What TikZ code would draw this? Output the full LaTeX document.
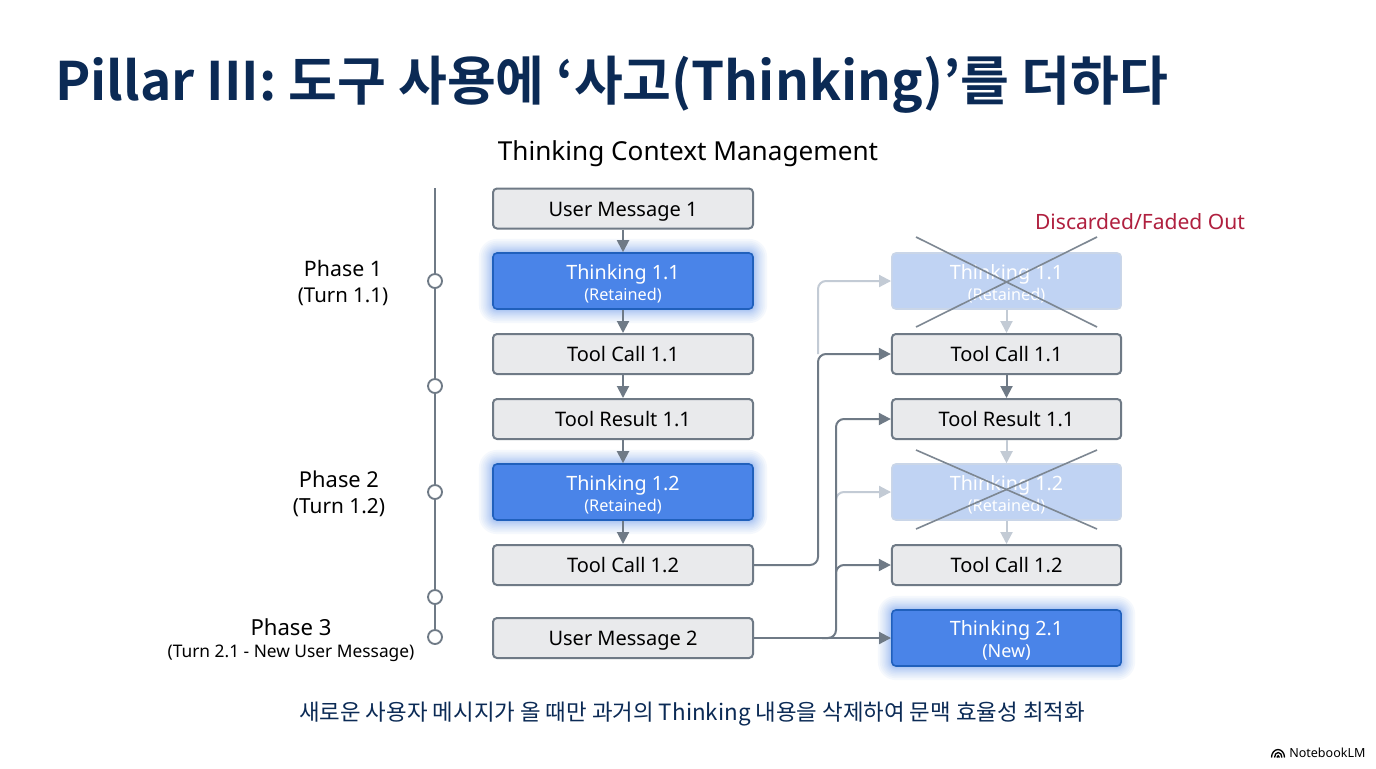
\documentclass[tikz,border=0pt]{standalone}
\usepackage{fontspec}
\setmainfont{Noto Sans}
\newfontfamily\krfont{Noto Sans CJK KR}
\newfontfamily\krbold{Noto Sans CJK KR Bold}
\usetikzlibrary{arrows.meta,calc}
\definecolor{navy}{HTML}{0B2A55}
\definecolor{linegray}{HTML}{6F7A86}
\definecolor{boxfill}{HTML}{E9EAEC}
\definecolor{blueA}{HTML}{4A84E8}
\definecolor{blueB}{HTML}{2060BC}
\definecolor{fadefill}{HTML}{C0D3F3}
\definecolor{fadeline}{HTML}{CAD6E8}
\definecolor{fadegray}{HTML}{C3CBD5}
\definecolor{redtxt}{HTML}{B0203F}
\newcommand{\smalltxt}[1]{{\fontsize{12.2pt}{15pt}\selectfont #1}}
\newcommand{\tline}[1]{\rule{0pt}{15pt}#1}
\tikzset{
  x=0.75pt,y=-0.75pt,
  bx/.style={rectangle,rounded corners=3pt,minimum height=30pt,inner sep=0pt,line width=1.5pt,draw=linegray,fill=boxfill,font=\fontsize{15pt}{18pt}\selectfont,text=black,text height=12pt,text depth=0.5pt},
  lw/.style={minimum width=195pt},
  rw/.style={minimum width=172pt},
  tk/.style={rectangle,rounded corners=3pt,minimum height=42pt,inner sep=0pt,line width=1.2pt,draw=blueB,fill=blueA,align=center,text=white,font=\fontsize{14.8pt}{17pt}\selectfont},
  fd/.style={tk,draw=fadeline,fill=fadefill},
  ar/.style={line width=1.5pt,draw=linegray,-{Triangle[width=9pt,length=9pt,fill=linegray]}},
  arf/.style={line width=1.5pt,draw=fadegray,-{Triangle[width=9pt,length=9pt,fill=fadegray]}},
  el/.style={line width=1.5pt,draw=linegray,rounded corners=6pt},
  elf/.style={line width=1.5pt,draw=fadegray,rounded corners=6pt},
  xl/.style={line width=1.2pt,draw=linegray!90!white},
  dot/.style={circle,draw=linegray,fill=white,line width=1.4pt,minimum size=10.5pt,inner sep=0pt},
  lab/.style={align=center,font=\fontsize{15.3pt}{19.5pt}\selectfont,text=black},
}
\newcommand{\glow}[4]{%
  \foreach \g in {1,...,14}{
    \pgfmathsetmacro{\ext}{\g*\g*0.072}
    \fill[blueA,opacity=0.05,rounded corners={3pt+\ext*0.75pt}] ($(#1-\ext,#2-\ext)$) rectangle ($(#3+\ext,#4+\ext)$);
  }}
\begin{document}
\begin{tikzpicture}
\useasboundingbox (0,0) rectangle (1376,768);
\fill[white] (0,0) rectangle (1376,768);

\node[anchor=base west,inner sep=0pt,text=navy,font=\krbold\fontsize{39.8pt}{44pt}\selectfont] (title) at (55,100) {Pillar III: 도구 사용에 ‘사고(Thinking)’를 더하다};
\node[font=\fontsize{19.6pt}{23pt}\selectfont,text=black] (sub) at (688,154) {Thinking Context Management};

% glows
\glow{493}{253}{753}{309}
\glow{493}{464}{753}{520}
\glow{892}{610}{1121}{666}

% timeline
\coordinate (tltop) at (435,188);
\node[dot] (d1) at (435,281) {};
\node[dot] (d2) at (435,386) {};
\node[dot] (d3) at (435,492) {};
\node[dot] (d4) at (435,597) {};
\node[dot] (d5) at (435,637) {};
\draw[line width=1.5pt,draw=linegray] (tltop) -- (d1) (d1) -- (d2) (d2) -- (d3) (d3) -- (d4) (d4) -- (d5);

\node[lab] (p1) at (343,283) {{\fontsize{16pt}{19.5pt}\selectfont Phase 1}\\(Turn 1.1)};
\node[lab] (p2) at (339,494) {{\fontsize{16.4pt}{19.5pt}\selectfont Phase 2}\\{\fontsize{15.6pt}{19.5pt}\selectfont (Turn 1.2)}};
\node[lab,font=\fontsize{16.6pt}{19.5pt}\selectfont] (p3a) at (291,627) {Phase 3};
\node[font=\fontsize{13pt}{15pt}\selectfont,text=black] (p3b) at (291,653) {(Turn 2.1 - New User Message)};

% left column
\node[bx,lw] (um1) at (623,208.5) {User Message 1};
\node[tk,lw] (t11) at (623,281) {\tline{Thinking 1.1}\\[-1pt]\smalltxt{(Retained)}};
\node[bx,lw] (tc11) at (623,354) {Tool Call 1.1};
\node[bx,lw] (tr11) at (623,419) {Tool Result 1.1};
\node[tk,lw] (t12) at (623,492) {\tline{Thinking 1.2}\\[-1pt]\smalltxt{(Retained)}};
\node[bx,lw] (tc12) at (623,565) {Tool Call 1.2};
\node[bx,lw] (um2) at (623,638) {User Message 2};

% right column
\node[fd,rw] (rt11) at (1006.5,281) {\tline{Thinking 1.1}\\[-1pt]\smalltxt{(Retained)}};
\node[bx,rw] (rtc11) at (1006.5,354) {Tool Call 1.1};
\node[bx,rw] (rtr11) at (1006.5,419) {Tool Result 1.1};
\node[fd,rw] (rt12) at (1006.5,492) {\tline{Thinking 1.2}\\[-1pt]\smalltxt{(Retained)}};
\node[bx,rw] (rtc12) at (1006.5,565) {Tool Call 1.2};
\node[tk,rw] (rt21) at (1006.5,638) {\tline{Thinking 2.1}\\[-1pt]{\fontsize{13.5pt}{15pt}\selectfont (New)}};

\node[text=redtxt,font=\fontsize{15.8pt}{19pt}\selectfont] (disc) at (1140,222) {Discarded/Faded Out};

% left arrows
\draw[ar] (um1) -- (t11);
\draw[ar] (t11) -- (tc11);
\draw[ar] (tc11) -- (tr11);
\draw[ar] (tr11) -- (t12);
\draw[ar] (t12) -- (tc12);

% right arrows
\draw[arf] (rt11) -- (rtc11);
\draw[ar] (rtc11) -- (rtr11);
\draw[arf] (rtr11) -- (rt12);
\draw[arf] (rt12) -- (rtc12);

% bus coordinates
\coordinate (busA) at (818,354);

% faded elbows
\draw[elf,-{Triangle[width=9pt,length=9pt,fill=fadegray]}] (busA) -- (818,281) -- (rt11.west);
\draw[elf,-{Triangle[width=9pt,length=9pt,fill=fadegray]}] (836,520) -- (836,492) -- (rt12.west);

% solid elbows
\draw[el,-{Triangle[width=9pt,length=9pt,fill=linegray]}] (tc12.east) -- (818,565) -- (818,354) -- (rtc11.west);
\draw[ar] (um2.east) -- (rt21.west);
\draw[el,-{Triangle[width=9pt,length=9pt,fill=linegray]}] (822,638) -- (836,638) -- (836,419) -- (rtr11.west);
\draw[el,-{Triangle[width=9pt,length=9pt,fill=linegray]}] (836,590) -- (836,565) -- (rtc12.west);

% crosses
\draw[xl] (916,237) -- (1097,327);
\draw[xl] (916,327) -- (1097,237);
\draw[xl] (916,450) -- (1097,529);
\draw[xl] (916,529) -- (1097,450);

\node[text=navy,font=\krfont\fontsize{16.8pt}{21pt}\selectfont] (foot) at (692,714) {새로운 사용자 메시지가 올 때만 과거의 Thinking 내용을 삭제하여 문맥 효율성 최적화};

% logo
\node[anchor=west,inner sep=0pt,text=black,font=\fontsize{9.4pt}{12pt}\selectfont\bfseries] (logo) at (1289,753) {NotebookLM};
\draw[line width=1pt,black] (1271.5,757.5) arc (180:360:6.5 and 8);
\draw[line width=1pt,black] (1274.5,757.5) arc (180:360:3.7 and 5);
\draw[line width=1pt,black] (1276.8,757.5) arc (180:360:1.3 and 1.8);
\end{tikzpicture}
\end{document}
